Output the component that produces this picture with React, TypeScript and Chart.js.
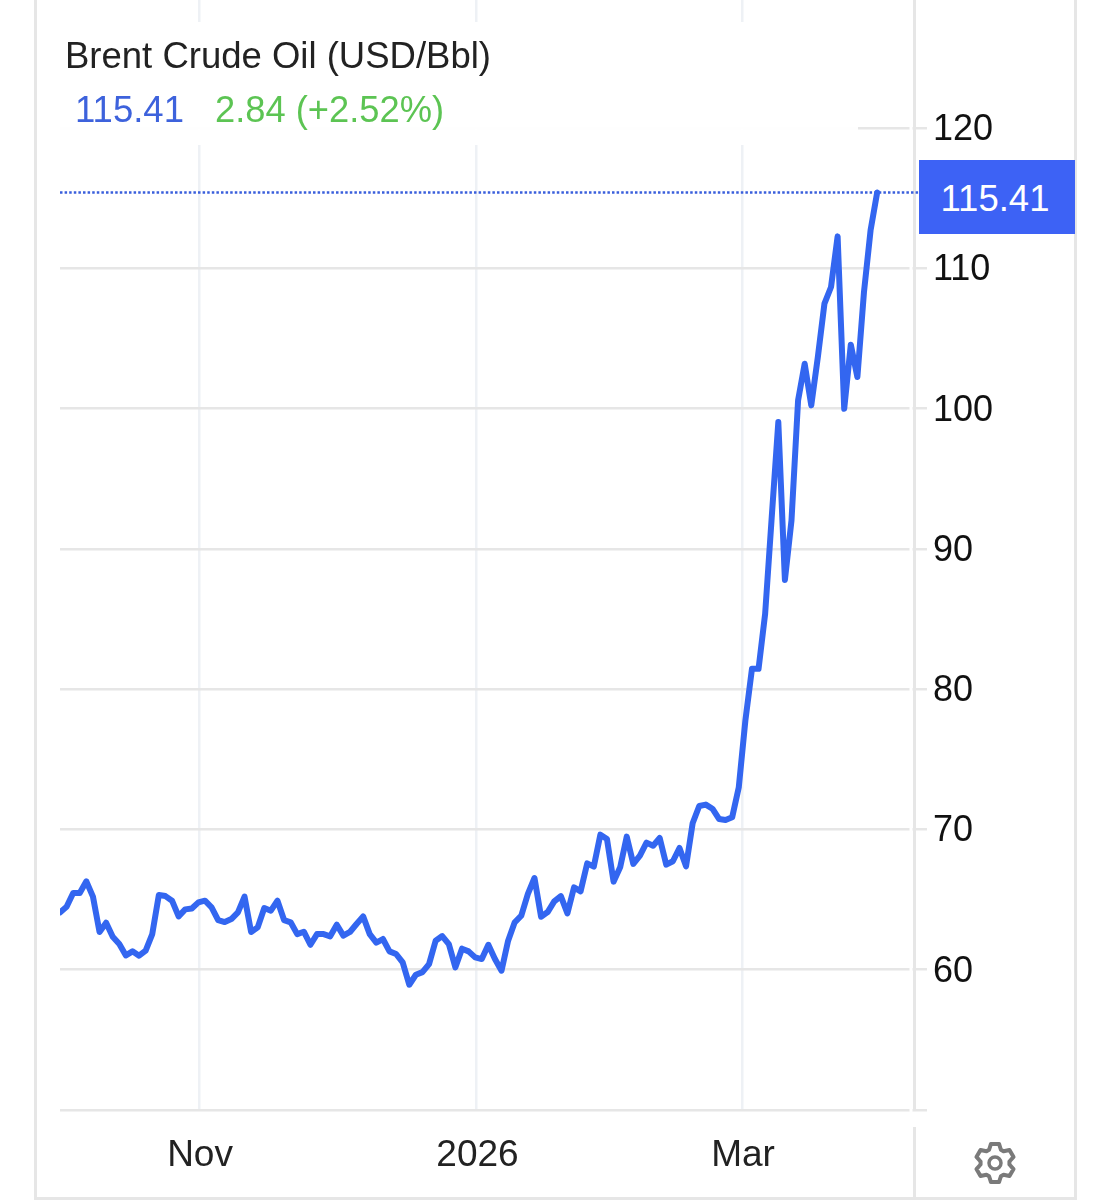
import { useEffect, useRef } from 'react'
import { Chart, registerables } from 'chart.js'

Chart.register(...registerables)

// daily closes
const prices = [
  64.09, 64.49, 65.47, 65.47, 66.3, 65.21, 62.69, 63.35, 62.35, 61.83,
  61.02, 61.31, 61.0, 61.36, 62.54, 65.33, 65.25, 64.92, 63.8, 64.3,
  64.37, 64.8, 64.92, 64.45, 63.54, 63.4, 63.61, 64.09, 65.21, 62.69,
  63.02, 64.4, 64.21, 64.92, 63.54, 63.38, 62.54, 62.71, 61.78, 62.54,
  62.54, 62.38, 63.21, 62.43, 62.69, 63.26, 63.8, 62.54, 61.93, 62.19,
  61.31, 61.12, 60.52, 58.93, 59.64, 59.83, 60.4, 62.07, 62.4, 61.83,
  60.17, 61.5, 61.31, 60.88, 60.76, 61.78, 60.76, 59.93, 62.07, 63.38,
  63.85, 65.4, 66.54, 63.78, 64.11, 64.87, 65.25, 64.02, 65.87, 65.59,
  67.58, 67.35, 69.63, 69.32, 66.28, 67.3, 69.49, 67.54, 68.13, 69.06,
  68.84, 69.39, 67.49, 67.73, 68.68, 67.37, 70.44, 71.67, 71.77, 71.48,
  70.75, 70.68, 70.87, 73.0, 77.76, 81.45, 81.45, 85.37, 92.26, 99.04,
  87.79, 92.03, 100.59, 103.2, 100.23, 103.68, 107.48, 108.67, 112.28, 99.99,
  104.56, 102.25, 108.31, 112.71, 115.41,
]

const xTickPositions = [21.1, 63.2, 103.5]
const xTickLabels = ['Nov', '2026', 'Mar']
const yTicks = [50, 60, 70, 80, 90, 100, 110, 120]

const title = 'Brent Crude Oil (USD/Bbl)'
const lastValue = '115.41'
const change = '2.84 (+2.52%)'

const blue = '#3366f0'
const frame = '#e6e6e6'
const font = '"Liberation Sans", Arial, sans-serif'

// the white band behind the header text hides the grid there
const headerBand = {
  id: 'headerBand',
  beforeDatasetsDraw(chart: Chart) {
    const { ctx } = chart
    ctx.save()
    ctx.fillStyle = 'rgba(255,255,255,0.96)'
    ctx.fillRect(50, 22, 808, 123)
    ctx.fillStyle = '#fff'
    ctx.fillRect(909.5, 0, 3, 1112)
    ctx.restore()
  },
}

function gearPath() {
  const cx = 24
  const cy = 24
  const pt = (r: number, deg: number) => {
    const a = (deg * Math.PI) / 180
    return `${(cx + r * Math.cos(a)).toFixed(2)} ${(cy + r * Math.sin(a)).toFixed(2)}`
  }
  let d = ''
  for (let k = 0; k < 6; k++) {
    const a = -90 + 60 * k
    d += `${k ? 'L' : 'M'}${pt(14.5, a - 24)} L${pt(19.5, a - 12)} L${pt(19.5, a + 12)} L${pt(14.5, a + 24)} `
  }
  return d + 'Z'
}

function Line({ style }: { style: React.CSSProperties }) {
  return <div style={{ position: 'absolute', background: frame, ...style }} />
}

export default function App() {
  const chartRef = useRef<HTMLCanvasElement>(null)

  useEffect(() => {
    if (!chartRef.current) return
    const last = prices[prices.length - 1]

    const chart = new Chart(chartRef.current, {
      type: 'line',
      plugins: [headerBand],
      data: {
        datasets: [
          {
            data: prices.map((y, x) => ({ x, y })),
            borderColor: blue,
            borderWidth: 6,
            pointRadius: 0,
            borderCapStyle: 'round',
            borderJoinStyle: 'round',
            tension: 0,
            clip: 0,
          },
          {
            data: [
              { x: 0, y: last },
              { x: 130.35, y: last },
            ],
            borderColor: '#3a5fdc',
            borderWidth: 2.5,
            borderDash: [2.5, 2.1],
            pointRadius: 0,
            clip: false,
          },
        ],
      },
      options: {
        responsive: false,
        animation: false,
        layout: { padding: { left: 60, right: 0, top: 0, bottom: 0 } },
        plugins: { legend: { display: false }, tooltip: { enabled: false } },
        scales: {
          x: {
            type: 'linear',
            min: 0,
            max: 129.59,
            afterBuildTicks: (s: any) => {
              s.ticks = xTickPositions.map((value) => ({ value }))
            },
            afterFit: (s: any) => {
              s.height = 90
              s.paddingLeft = 0
              s.paddingRight = 0
            },
            border: { display: false },
            grid: { color: '#eef1f5', lineWidth: 2.5, drawTicks: false },
            ticks: {
              autoSkip: false,
              maxRotation: 0,
              padding: 24,
              labelOffset: 1,
              color: '#222',
              font: { family: font, size: 37 },
              callback: (v: any) => xTickLabels[xTickPositions.indexOf(v)],
            },
          },
          y: {
            type: 'linear',
            position: 'right',
            min: 50,
            max: 129.13,
            afterBuildTicks: (s: any) => {
              s.ticks = yTicks.map((value) => ({ value }))
            },
            afterFit: (s: any) => {
              s.width = 197
              s.paddingTop = 0
              s.paddingBottom = 0
            },
            border: { color: frame, width: 3 },
            grid: { color: frame, lineWidth: 2.5, tickLength: 13 },
            ticks: {
              padding: 6,
              labelOffset: 2,
              color: '#111',
              font: { family: font, size: 36 },
              callback: (v: any) => (v === 50 ? '' : String(v)),
            },
          },
        },
      },
    })

    return () => chart.destroy()
  }, [])

  const text: React.CSSProperties = {
    position: 'absolute',
    fontFamily: font,
    fontSize: 36.5,
    lineHeight: '40px',
    whiteSpace: 'nowrap',
  }

  return (
    <div style={{ position: 'absolute', left: 0, top: 0, width: 1111, height: 1200, background: '#fff', overflow: 'hidden' }}>
      <canvas ref={chartRef} width={1111} height={1200} style={{ display: 'block', position: 'absolute', left: 0, top: 0 }} />
      <Line style={{ left: 34, top: 0, width: 3, height: 1199 }} />
      <Line style={{ left: 1074, top: 0, width: 3, height: 1199 }} />
      <Line style={{ left: 34, top: 1197, width: 1043, height: 3 }} />
      <Line style={{ left: 913, top: 1127, width: 3, height: 72 }} />
      <div style={{ ...text, left: 65, top: 36, color: '#222' }}>{title}</div>
      <div style={{ ...text, left: 75, top: 90, color: '#3d62dc' }}>{lastValue}</div>
      <div style={{ ...text, left: 215, top: 90, color: '#5cc453', fontSize: 36.3 }}>{change}</div>
      <div
        style={{
          ...text,
          left: 917,
          top: 160,
          width: 156,
          height: 74,
          lineHeight: '77px',
          textAlign: 'center',
          fontSize: 36.5,
          color: '#fff',
        }}
      >
        <span style={{ position: 'absolute', left: 2, top: 0, width: 156, height: 74, background: '#3d62f5' }} />
        <span style={{ position: 'relative' }}>{lastValue}</span>
      </div>
      <svg width={48} height={48} viewBox="0 0 48 48" style={{ position: 'absolute', left: 971, top: 1139 }}>
        <path d={gearPath()} fill="none" stroke="#7a7a7a" strokeWidth={4} strokeLinejoin="round" />
        <circle cx={24} cy={24} r={6} fill="none" stroke="#7a7a7a" strokeWidth={3.5} />
      </svg>
    </div>
  )
}
